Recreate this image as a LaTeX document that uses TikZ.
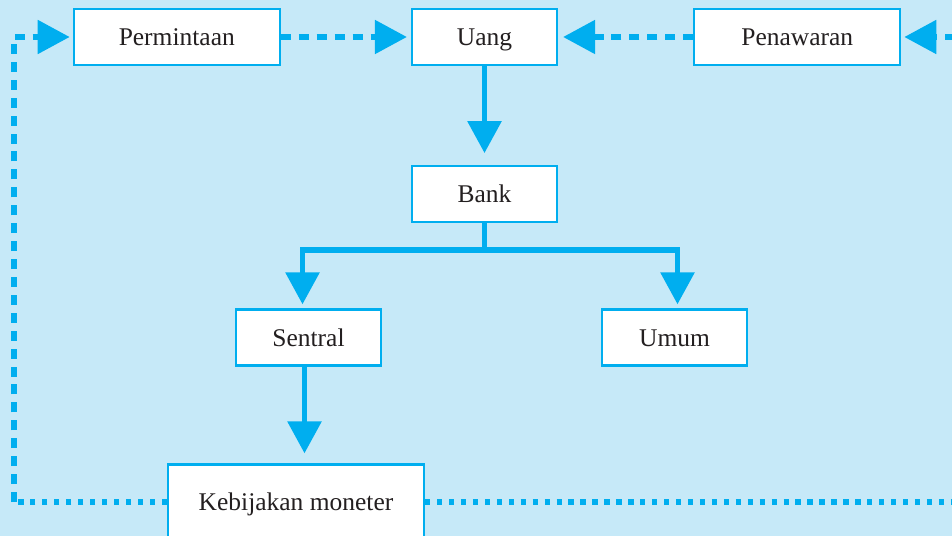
\documentclass[tikz,border=0pt]{standalone}
\usepackage{fontspec}
\setmainfont{Liberation Serif}
\usetikzlibrary{arrows.meta, positioning, calc}
\definecolor{bgblue}{HTML}{C6E9F8}
\definecolor{cyanline}{HTML}{00AEEF}
\definecolor{ink}{HTML}{231F20}

\begin{document}
\begin{tikzpicture}[x=0.02cm, y=-0.02cm, >={Triangle[length=0.64cm,width=0.66cm]},
  box/.style={draw=cyanline, line width=1.3pt, fill=white, minimum width=2.9cm,
    minimum height=1.12cm, inner sep=0pt, text height=9.9pt, text depth=0pt,
    font=\fontsize{14.5}{17}\selectfont, text=ink},
  flow/.style={cyanline, line width=3.3pt},
  feedback/.style={cyanline, line width=3pt, dash pattern=on 5.7pt off 4.5pt},
  dotrow/.style={cyanline, line width=3pt, dash pattern=on 3pt off 3.8pt}]
\fill[bgblue] (0,0) rectangle (952,536);
\useasboundingbox (0,0) rectangle (952,536);
\clip (0,0) rectangle (952,536);

\node[box] (uang) at (484.5,37) {Uang};
\node[box, minimum width=4.12cm, left=2.6cm of uang] (perm) {Permintaan};
\node[box, minimum width=4.12cm, right=2.7cm of uang] (penaw) {Penawaran};
\node[box, below=1.98cm of uang] (bank) {Bank};
\node[box] (sentral) at (308.5,337.5) {Sentral};
\node[box] (umum) at (674.5,337.5) {Umum};
\node[box, minimum width=5.12cm, minimum height=1.5cm] (kebij) at (296,502) {Kebijakan moneter};

% solid flow
\draw[flow, ->, shorten >=0.24cm] (uang) -- (bank);
\coordinate (fork) at ($(bank.south)+(0,27)$);
\draw[flow] (bank) -- (fork);
\draw[flow, line cap=rect] ($(fork -| sentral)+(-6,0)$) -- ($(fork -| umum)+(3,0)$);
\draw[flow, ->, shorten >=0.08cm] ($(fork -| sentral)+(-6,0)$) -- ($(sentral.north)+(-6,0)$);
\draw[flow, ->, shorten >=0.08cm] ($(fork -| umum)+(3,0)$) -- ($(umum.north)+(3,0)$);
\draw[flow, ->, shorten >=0.2cm] ($(sentral.south)+(-4,0)$) -- ($(sentral.south |- kebij.north)+(-4,0)$);

% dashed feedback
\draw[feedback, ->, shorten >=0.08cm] (perm) -- (uang);
\draw[feedback, ->, shorten >=0.1cm] (penaw) -- (uang);
\coordinate (sw) at ($(kebij.west)+(-153,0)$);
\coordinate (se) at ($(kebij.east)+(620,0)$);
\draw[dotrow] (kebij.west) -- (sw);
\draw[feedback, ->, shorten >=0.06cm] (sw) |- (perm.west);
\draw[dotrow] (kebij.east) -- (se);
\draw[feedback, ->, shorten >=0.06cm] (se) |- (penaw.east);
\end{tikzpicture}
\end{document}
